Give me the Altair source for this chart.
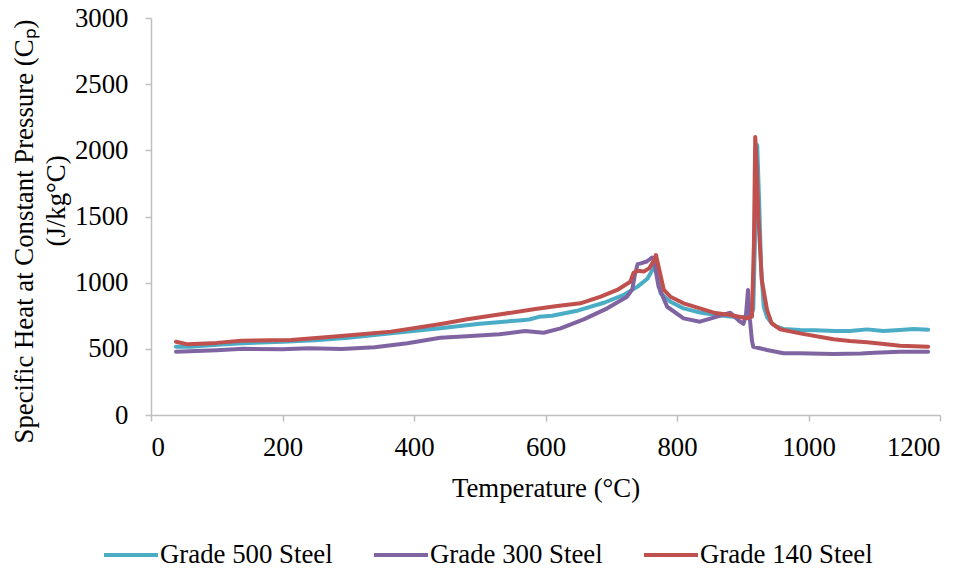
import altair as alt
import pandas as pd

# Series names and line colours
series_names = ["Grade 500 Steel", "Grade 300 Steel", "Grade 140 Steel"]
series_colors = ["#4BACC6", "#8064A2", "#C0504D"]

# Grade 500 steel: temperature (°C) and specific heat (J/kg°C)
g500_temp = [38, 60, 100, 140, 200, 250, 300, 365, 440, 500, 560, 575, 590, 610, 650,
             690, 720, 740, 755, 763, 767, 770, 775, 790, 810, 835, 860, 885, 905,
             912, 916, 919, 922, 925, 928, 932, 937, 942, 950, 962, 987, 1010, 1040,
             1063, 1089, 1114, 1139, 1160, 1182]
g500_cp = [516, 516, 530, 542, 554, 565, 584, 617, 655, 690, 715, 722, 742, 750, 790,
           850, 910, 970, 1030, 1100, 1150, 1080, 920, 856, 806, 775, 756, 743, 740,
           745, 800, 1400, 2040, 1600, 1100, 818, 740, 705, 670, 650, 642, 640, 635,
           635, 647, 635, 642, 650, 645]

# Grade 300 steel
g300_temp = [38, 100, 140, 200, 240, 290, 340, 390, 440, 480, 530, 569, 597, 623, 658,
             694, 724, 732, 736, 740, 745, 754, 762, 765, 768, 772, 785, 810, 835, 861,
             881, 896, 901, 905, 908, 911, 914, 916, 926, 937, 962, 987, 1038, 1080,
             1100, 1139, 1182]
g300_cp = [478, 490, 500, 497, 504, 499, 512, 542, 584, 595, 610, 635, 622, 655, 723,
           806, 894, 950, 1060, 1140, 1146, 1160, 1190, 1180, 1080, 970, 818, 730, 705,
           743, 773, 705, 688, 760, 945, 718, 560, 516, 504, 491, 466, 466, 461, 465,
           470, 478, 478]

# Grade 140 steel
g140_temp = [38, 56, 100, 137, 213, 289, 365, 441, 481, 532, 582, 618, 653, 684, 709,
             729, 734, 740, 750, 758, 765, 768, 772, 780, 790, 810, 835, 856, 881, 906,
             914, 917, 919, 921, 924, 929, 937, 944, 957, 987, 1038, 1063, 1089, 1129,
             1139, 1182]
g140_cp = [554, 534, 545, 561, 567, 597, 630, 688, 723, 761, 799, 824, 844, 894, 945,
           1007, 1075, 1090, 1085, 1110, 1170, 1209, 1120, 945, 894, 844, 806, 773, 756,
           731, 743, 1300, 2100, 1900, 1474, 1020, 793, 693, 648, 617, 572, 559, 549,
           529, 524, 516]

x_ticks = [0, 200, 400, 600, 800, 1000, 1200]
y_ticks = [0, 500, 1000, 1500, 2000, 2500, 3000]

y_title = "Specific Heat at Constant Pressure (Cₚ)"
y_units = ["(J/kg°C)"]

rows = []
for name, temps, cps in zip(series_names,
                            [g500_temp, g300_temp, g140_temp],
                            [g500_cp, g300_cp, g140_cp]):
    for i, (t, c) in enumerate(zip(temps, cps)):
        rows.append({"series": name, "temp": t, "cp": c, "idx": i})
df = pd.DataFrame(rows)

FONT = "Liberation Serif"
FS = 26.8
AXIS_GRAY = "#BFBFBF"

lines = (
    alt.Chart(df)
    .mark_line(strokeWidth=4, strokeJoin="round", strokeCap="round")
    .encode(
        x=alt.X(
            "temp:Q",
            scale=alt.Scale(domain=[0, 1200], nice=False, zero=False),
            axis=alt.Axis(
                values=x_ticks,
                format="d",
                title="Temperature (°C)",
                titleX=394.5,
                titleY=60,
                titleBaseline="top",
                labelPadding=13,
            ),
        ),
        y=alt.Y(
            "cp:Q",
            scale=alt.Scale(domain=[0, 3000], nice=False),
            axis=alt.Axis(
                values=y_ticks,
                format="d",
                title=y_title,
                titleAngle=270,
                titleAlign="center",
                titleBaseline="bottom",
                titleX=-113,
                titleY=213,
                labelPadding=17,
            ),
        ),
        color=alt.Color(
            "series:N",
            sort=series_names,
            scale=alt.Scale(domain=series_names, range=series_colors),
            legend=alt.Legend(
                title=None,
                orient="none",
                direction="horizontal",
                legendX=-49,
                legendY=508,
                symbolType="stroke",
                symbolSize=2916,
                symbolStrokeWidth=4,
                labelFont=FONT,
                labelFontSize=FS,
                labelColor="black",
                labelLimit=0,
                labelOffset=0,
                columnPadding=33,
            ),
        ),
        order=alt.Order("idx:Q"),
    )
)

# Second line of the y-axis title (units), set slightly above the first line's centre
units = (
    alt.Chart(pd.DataFrame({"label": y_units}))
    .mark_text(angle=270, font=FONT, fontSize=FS, align="center", baseline="middle",
               color="black")
    .encode(x=alt.value(-94), y=alt.value(183), text="label:N")
)

chart = (
    alt.layer(lines, units)
    .properties(
        width=789,
        height=397,
        autosize=alt.AutoSizeParams(type="none"),
        padding={"left": 151, "top": 18, "right": 34, "bottom": 160},
    )
    .configure_view(stroke=None)
    .configure_axis(
        grid=False,
        domainColor=AXIS_GRAY,
        domainWidth=1.5,
        tickColor=AXIS_GRAY,
        tickWidth=1.5,
        tickSize=6,
        labelFont=FONT,
        labelFontSize=FS,
        labelColor="black",
        titleFont=FONT,
        titleFontSize=FS,
        titleFontWeight="normal",
        titleColor="black",
    )
)

chart.save("out.html", embed_options={"renderer": "svg", "actions": False})
